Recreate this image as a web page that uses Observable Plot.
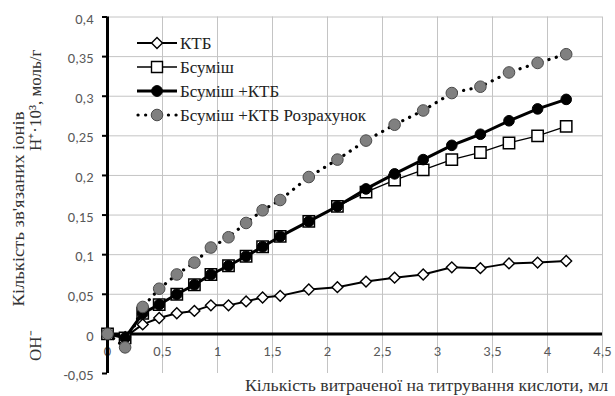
<!DOCTYPE html>
<html>
<head>
<meta charset="utf-8">
<script src="https://cdn.jsdelivr.net/npm/d3@7"></script>
<script src="https://cdn.jsdelivr.net/npm/@observablehq/plot@0.6"></script>
<style>
  html, body { margin: 0; padding: 0; background: #fff; }
  #chart { position: relative; width: 615px; height: 396px; }
  #legend { position: absolute; left: 0; top: 0; pointer-events: none; }
  text.serif { font-family: "Liberation Serif"; font-size: 17px; }
</style>
</head>
<body>
<div id="chart"></div>
<script>
// ---- data ----
const xVals   = [0, 0.16, 0.32, 0.47, 0.63, 0.79, 0.94, 1.10, 1.26, 1.41, 1.57, 1.83, 2.09, 2.35, 2.61, 2.87, 3.13, 3.39, 3.65, 3.91, 4.17];
const ktb     = [0, -0.004, 0.012, 0.020, 0.026, 0.029, 0.036, 0.036, 0.041, 0.046, 0.048, 0.056, 0.059, 0.066, 0.071, 0.075, 0.084, 0.083, 0.089, 0.090, 0.092];
const bsum    = [0, -0.005, 0.026, 0.037, 0.050, 0.062, 0.075, 0.086, 0.098, 0.110, 0.123, 0.142, 0.161, 0.179, 0.194, 0.207, 0.220, 0.229, 0.241, 0.250, 0.262];
const bsumKtb = [0, -0.005, 0.026, 0.037, 0.050, 0.062, 0.075, 0.086, 0.098, 0.110, 0.123, 0.142, 0.161, 0.183, 0.202, 0.220, 0.238, 0.252, 0.269, 0.284, 0.296];
const calc    = [0, -0.017, 0.034, 0.057, 0.075, 0.090, 0.109, 0.122, 0.140, 0.156, 0.169, 0.198, 0.220, 0.244, 0.264, 0.282, 0.304, 0.312, 0.330, 0.342, 0.353];

const seriesNames = ["КТБ", "Бсуміш", "Бсуміш +КТБ", "Бсуміш +КТБ Розрахунок"];
const xTicks = [0, 0.5, 1, 1.5, 2, 2.5, 3, 3.5, 4, 4.5];
const yTicks = [-0.05, 0, 0.05, 0.1, 0.15, 0.2, 0.25, 0.3, 0.35, 0.4];
const xGrid = [0.5, 1, 1.5, 2, 2.5, 3, 3.5, 4, 4.5];
const yGrid = [0.05, 0.1, 0.15, 0.2, 0.25, 0.3, 0.35, 0.4];

const yTitle1 = "Кількість зв'язаних іонів";
const yTitle2 = "H⁺·10³, моль/г";
const yTitle3 = "ОН⁻";
const xTitle = "Кількість витраченої на титрування кислоти, мл";

// ---- build table ----
const rows = xVals.map((x, i) => ({x, ktb: ktb[i], bsum: bsum[i], bsumKtb: bsumKtb[i], calc: calc[i]}));
const fmt = d => String(Math.round(d * 100) / 100).replace(".", ",");

const W = 615, H = 396;
const mL = 107, mR = 13, mT = 16.5, mB = 23;

const plot = Plot.plot({
  width: W, height: H,
  marginLeft: mL, marginRight: mR, marginTop: mT, marginBottom: mB,
  style: {fontFamily: "Carlito", fontSize: "14.5px", background: "#fff", overflow: "visible"},
  x: {domain: [0, 4.5], label: null},
  y: {domain: [-0.05, 0.4], label: null},
  marks: [
    Plot.gridX(xGrid, {stroke: "#c4c4c4", strokeOpacity: 1, strokeWidth: 1}),
    Plot.gridY(yGrid, {stroke: "#c4c4c4", strokeOpacity: 1, strokeWidth: 1}),
    Plot.axisX(xTicks, {anchor: "bottom", tickSize: 0, tickPadding: 0, dy: -28, tickFormat: fmt, color: "#595959", fontSize: 14.5, label: null}),
    Plot.axisY(yTicks, {anchor: "left", tickSize: 0, tickPadding: 14, dy: 2, tickFormat: fmt, color: "#595959", fontSize: 14.5, label: null}),
    Plot.axisY(yTicks, {anchor: "left", tickSize: 5, tickFormat: () => "", stroke: "#000", strokeWidth: 2, label: null}),
    Plot.ruleY([0], {stroke: "#000", strokeWidth: 3}),
    Plot.ruleX([0], {stroke: "#000", strokeWidth: 3}),
    // КТБ
    Plot.line(rows, {x: "x", y: "ktb", stroke: "#000", strokeWidth: 2}),
    Plot.dot(rows, {x: "x", y: "ktb", symbol: "diamond2", r: 4.9, fill: "#fff", stroke: "#000", strokeWidth: 1.4}),
    // Бсуміш
    Plot.line(rows, {x: "x", y: "bsum", stroke: "#000", strokeWidth: 1.3}),
    Plot.dot(rows, {x: "x", y: "bsum", symbol: "square", r: 6.4, fill: "#fff", stroke: "#000", strokeWidth: 1.5}),
    // Бсуміш +КТБ
    Plot.line(rows, {x: "x", y: "bsumKtb", stroke: "#000", strokeWidth: 3}),
    Plot.dot(rows, {x: "x", y: "bsumKtb", symbol: "circle", r: 5.3, fill: "#000", stroke: "#000", strokeWidth: 1}),
    // Розрахунок
    Plot.line(rows, {x: "x", y: "calc", stroke: "#000", strokeWidth: 3.2, strokeDasharray: "0.1 7.5", strokeLinecap: "round"}),
    Plot.dot(rows, {x: "x", y: "calc", symbol: "circle", r: 5.8, fill: "#808080", stroke: "#4a4a4a", strokeWidth: 1})
  ]
});

document.getElementById("chart").appendChild(plot);

// ---- titles ----
const svg = d3.select(plot);
function title(sel) {
  return sel.attr("class", "serif").attr("fill", "#333");
}
title(svg.append("text"))
  .attr("transform", "translate(24,209) rotate(-90)")
  .attr("text-anchor", "middle")
  .attr("textLength", 195).attr("lengthAdjust", "spacingAndGlyphs")
  .text(yTitle1);
title(svg.append("text"))
  .attr("transform", "translate(41,151) rotate(-90)")
  .attr("text-anchor", "start")
  .text(yTitle2);
title(svg.append("text"))
  .attr("transform", "translate(41,361) rotate(-90)")
  .attr("text-anchor", "start")
  .text(yTitle3);
title(svg.append("text"))
  .attr("x", 608).attr("y", 391)
  .attr("text-anchor", "end")
  .attr("textLength", 363).attr("lengthAdjust", "spacingAndGlyphs")
  .text(xTitle);

// ---- legend ----
const leg = d3.select("#chart").append("svg")
  .attr("id", "legend").attr("width", W).attr("height", H);
const legendRows = [
  {name: seriesNames[0], y: 43, sw: 2, dash: null, sym: d3.symbolDiamond2, r: 4.9, fill: "#fff", stroke: "#000", msw: 1.4},
  {name: seriesNames[1], y: 67, sw: 1.3, dash: null, sym: d3.symbolSquare, r: 6.2, fill: "#fff", stroke: "#000", msw: 1.4},
  {name: seriesNames[2], y: 91, sw: 3, dash: null, sym: d3.symbolCircle, r: 5.4, fill: "#000", stroke: "#000", msw: 1},
  {name: seriesNames[3], y: 115, sw: 3.2, dash: "0.1 7.5", sym: d3.symbolCircle, r: 5.8, fill: "#808080", stroke: "#4a4a4a", msw: 1}
];
const lx1 = 137, lx2 = 177, lmx = 157, ltx = 180;
legendRows.forEach(d => {
  const g = leg.append("g");
  const ln = g.append("line")
    .attr("x1", lx1).attr("x2", lx2).attr("y1", d.y).attr("y2", d.y)
    .attr("stroke", "#000").attr("stroke-width", d.sw);
  if (d.dash) ln.attr("stroke-dasharray", d.dash).attr("stroke-linecap", "round").attr("x1", lx1 + 1);
  g.append("path")
    .attr("transform", `translate(${lmx},${d.y})`)
    .attr("d", d3.symbol(d.sym, d.r * d.r * Math.PI)())
    .attr("fill", d.fill).attr("stroke", d.stroke).attr("stroke-width", d.msw);
  title(g.append("text"))
    .attr("x", ltx).attr("y", d.y).attr("dy", "0.35em")
    .attr("fill", "#222")
    .text(d.name);
});
</script>
</body>
</html>
